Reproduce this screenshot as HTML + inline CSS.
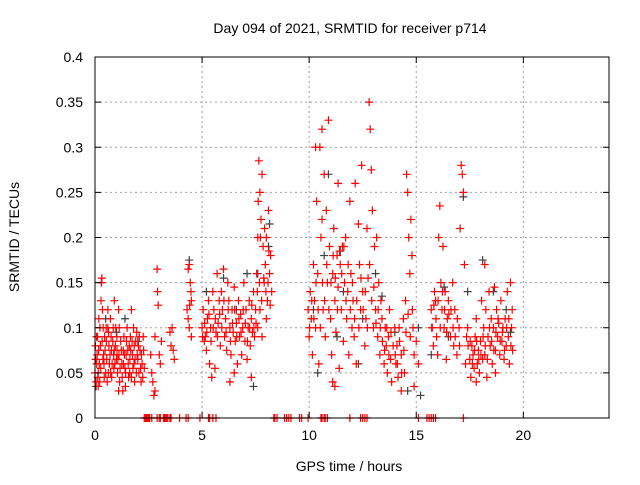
<!DOCTYPE html>
<html><head><meta charset="utf-8"><style>
body{margin:0;background:#fff}
svg text{font-family:"Liberation Sans",sans-serif;font-size:14px;fill:#000}
</style></head><body>
<svg id="chart" width="640" height="480" xmlns="http://www.w3.org/2000/svg">
<rect width="640" height="480" fill="#fff"/>
<g id="grid"></g>
<g id="gray"></g>
<g id="red"></g>
<g id="axes"></g>
<text x="350" y="33" text-anchor="middle">Day 094 of 2021, SRMTID for receiver p714</text>
<text x="349" y="471" text-anchor="middle">GPS time / hours</text>
<text x="19" y="237" text-anchor="middle" transform="rotate(-90 19 237)">SRMTID / TECUs</text>
</svg>
<script>
const xTicks=[0,5,10,15,20];
const yTicks=[0,0.05,0.1,0.15,0.2,0.25,0.3,0.35,0.4];
const yTickLabels=["0","0.05","0.1","0.15","0.2","0.25","0.3","0.35","0.4"];
const redPts=[[0,0.05],[0.02,0.08],[0.05,0.04],[0.08,0.06],[0.1,0.07],[0.12,0.09],[0.15,0.05],[0.18,0.11],[0.2,0.06],[0.22,0.04],[0.25,0.08],[0.28,0.13],[0.3,0.15],[0.32,0.155],[0.35,0.12],[0.38,0.1],[0.4,0.07],[0.42,0.06],[0.45,0.09],[0.5,0.05],[0.52,0.1],[0.55,0.065],[0.6,0.12],[0.62,0.05],[0.65,0.08],[0.7,0.07],[0.72,0.11],[0.75,0.09],[0.78,0.045],[0.8,0.06],[0.85,0.1],[0.88,0.055],[0.9,0.075],[0.95,0.08],[1,0.065],[1.02,0.09],[1.05,0.05],[1.1,0.12],[1.12,0.07],[1.15,0.04],[1.2,0.085],[1.25,0.06],[1.3,0.03],[1.32,0.075],[1.35,0.09],[1.4,0.055],[1.42,0.035],[1.45,0.07],[1.5,0.1],[1.55,0.06],[1.6,0.08],[1.62,0.05],[1.65,0.09],[1.7,0.045],[1.75,0.07],[1.8,0.1],[1.82,0.06],[1.85,0.04],[1.9,0.085],[1.95,0.095],[2,0.065],[2.05,0.05],[2.1,0.075],[2.15,0.04],[2.2,0.06],[2.25,0.09],[2.3,0.055],[0.15,0.035],[0.6,0.1],[1.1,0.03],[1.7,0.12],[0.9,0.13],
[2.6,0.07],[2.65,0.05],[2.7,0.04],[2.8,0.09],[2.9,0.165],[2.92,0.14],[2.95,0.125],[3,0.07],[3.05,0.06],[3.1,0.085],[3.5,0.095],[3.55,0.08],[3.6,0.1],[3.65,0.075],[3.7,0.065],[2.75,0.025],[2.8,0.03],
[4.3,0.12],[4.35,0.11],[4.4,0.17],[4.45,0.15],[4.5,0.13],[4.4,0.1],[4.5,0.09],[4.35,0.165],[5,0.1],[5.05,0.12],[5.1,0.085],[5.15,0.09],[5.2,0.075],[5.25,0.11],[5.3,0.13],[5.35,0.06],[5.4,0.1],[5.5,0.14],[5.55,0.12],[5.6,0.055],[5.65,0.095],[5.7,0.16],[5.75,0.105],[5.8,0.13],[5.85,0.08],[5.9,0.14],[5.95,0.12],[6,0.165],[6.05,0.09],[6.1,0.11],[6.15,0.075],[6.2,0.15],[6.25,0.13],[6.3,0.1],[6.35,0.07],[6.4,0.12],[6.45,0.095],[6.5,0.145],[6.55,0.085],[6.6,0.105],[6.65,0.06],[6.7,0.13],[6.75,0.09],[6.8,0.115],[6.85,0.07],[6.9,0.1],[6.95,0.15],[7,0.085],[7.05,0.12],[7.1,0.065],[7.15,0.1],[7.2,0.13],[7.25,0.08],[7.3,0.11],[7.35,0.095],[7.4,0.14],[7.45,0.09],[7.5,0.12],[7.55,0.16],[7.6,0.2],[7.62,0.24],[7.65,0.285],[7.7,0.25],[7.75,0.22],[7.8,0.27],[7.85,0.19],[7.9,0.15],[7.95,0.17],[8,0.2],[8.05,0.13],[8.1,0.23],[8.15,0.16],[8.2,0.18],[8.25,0.14],[7.6,0.1],[7.7,0.12],[7.8,0.09],[8,0.11],[5.45,0.045],[6.3,0.04],[7.3,0.045],[6.5,0.05],
[9.95,0.12],[10,0.09],[10.05,0.14],[10.1,0.11],[10.15,0.07],[10.2,0.17],[10.25,0.13],[10.3,0.1],[10.35,0.24],[10.4,0.16],[10.45,0.06],[10.5,0.3],[10.55,0.2],[10.6,0.32],[10.65,0.12],[10.7,0.27],[10.75,0.09],[10.8,0.23],[10.85,0.15],[10.9,0.33],[10.95,0.19],[11,0.11],[11.05,0.07],[11.1,0.16],[11.15,0.21],[11.2,0.13],[11.25,0.095],[11.3,0.18],[11.35,0.145],[11.4,0.055],[11.45,0.17],[11.5,0.12],[11.55,0.19],[11.6,0.085],[11.65,0.15],[11.7,0.2],[11.75,0.11],[11.8,0.14],[11.85,0.07],[11.9,0.24],[11.95,0.16],[12,0.1],[12.05,0.13],[12.1,0.09],[12.15,0.26],[12.2,0.06],[12.3,0.215],[12.35,0.17],[12.4,0.12],[12.45,0.28],[12.5,0.14],[12.6,0.08],[12.65,0.11],[12.7,0.21],[12.75,0.155],[12.8,0.35],[12.85,0.32],[12.9,0.275],[12.95,0.23],[13,0.1],[13.05,0.19],[13.1,0.12],[13.15,0.2],[13.2,0.09],[13.25,0.15],[13.3,0.07],[13.35,0.13],[13.4,0.11],[13.5,0.06],[13.55,0.1],[13.6,0.08],[13.65,0.05],[13.7,0.09],[13.75,0.12],[13.8,0.065],[13.85,0.04],[11.1,0.04],[11.2,0.035],[10.3,0.3],[10.6,0.22],[11.35,0.26],
[14,0.1],[14.05,0.06],[14.1,0.08],[14.15,0.045],[14.2,0.1],[14.3,0.07],[14.4,0.11],[14.45,0.05],[14.5,0.13],[14.55,0.27],[14.6,0.25],[14.65,0.2],[14.7,0.16],[14.75,0.22],[14.8,0.18],[14.85,0.1],[14.9,0.07],[15,0.085],[15.1,0.06],[14.3,0.03],[14.9,0.035],
[15.7,0.12],[15.75,0.1],[15.8,0.08],[15.85,0.14],[15.9,0.13],[15.95,0.09],[16,0.07],[16.05,0.2],[16.1,0.235],[16.15,0.15],[16.2,0.12],[16.25,0.19],[16.3,0.1],[16.35,0.14],[16.4,0.065],[16.45,0.11],[16.5,0.13],[16.6,0.09],[16.7,0.15],[16.75,0.08],[16.8,0.12],[16.9,0.07],[17,0.1],[17.05,0.21],[17.1,0.28],[17.15,0.27],[17.2,0.25],[17.25,0.17],[17.3,0.06],[17.35,0.09],[17.4,0.1],[17.5,0.065],[17.55,0.045],[17.6,0.08],[17.65,0.07],[17.7,0.055],[17.75,0.09],[17.8,0.11],[17.85,0.06],[17.9,0.075],[17.95,0.05],[18,0.085],[18.05,0.13],[18.1,0.065],[18.15,0.1],[18.2,0.07],[18.25,0.12],[18.3,0.045],[18.35,0.09],[18.4,0.14],[18.45,0.08],[18.5,0.11],[18.55,0.06],[18.6,0.1],[18.65,0.145],[18.7,0.075],[18.75,0.12],[18.8,0.09],[18.85,0.105],[18.9,0.07],[18.95,0.13],[19,0.085],[19.05,0.1],[19.1,0.065],[19.15,0.11],[19.2,0.08],[19.25,0.14],[19.3,0.09],[19.35,0.06],[19.4,0.15],[19.45,0.1],[19.5,0.075],[18.2,0.17],[17.8,0.04],[18.7,0.05]];
const redPts2=[[0.03,0.065],[0.07,0.09],[0.13,0.045],[0.17,0.075],[0.23,0.1],[0.27,0.055],[0.33,0.085],[0.37,0.065],[0.43,0.045],[0.47,0.075],[0.53,0.085],[0.57,0.04],[0.63,0.095],[0.67,0.06],[0.73,0.05],[0.77,0.075],[0.83,0.085],[0.87,0.07],[0.93,0.06],[0.97,0.1],[1.03,0.075],[1.07,0.065],[1.13,0.1],[1.17,0.055],[1.23,0.075],[1.27,0.045],[1.33,0.06],[1.37,0.07],[1.43,0.05],[1.47,0.085],[1.53,0.075],[1.57,0.045],[1.63,0.065],[1.67,0.075],[1.73,0.085],[1.77,0.055],[1.83,0.08],[1.87,0.065],[1.93,0.05],[1.97,0.07],[2.03,0.08],[2.07,0.09],[2.13,0.055],[2.17,0.07],[2.23,0.045],[2.27,0.075],
[4.42,0.125],[4.48,0.14],[5.02,0.09],[5.12,0.105],[5.22,0.095],[5.32,0.115],[5.42,0.085],[5.52,0.1],[5.62,0.11],[5.72,0.09],[5.82,0.115],[5.92,0.1],[6.02,0.13],[6.12,0.095],[6.22,0.12],[6.32,0.085],[6.42,0.105],[6.52,0.12],[6.62,0.09],[6.72,0.11],[6.82,0.095],[6.92,0.12],[7.02,0.105],[7.12,0.085],[7.22,0.1],[7.32,0.125],[7.42,0.1],[7.52,0.105],[7.58,0.14],[7.68,0.15],[7.78,0.13],[7.88,0.155],[7.98,0.14],[8.08,0.15],[8.18,0.125],[7.72,0.2],[7.92,0.21],[8.12,0.185],
[10.02,0.1],[10.12,0.13],[10.22,0.11],[10.32,0.15],[10.42,0.12],[10.52,0.1],[10.62,0.15],[10.72,0.13],[10.82,0.17],[10.92,0.12],[11.02,0.15],[11.12,0.18],[11.22,0.155],[11.32,0.12],[11.42,0.185],[11.52,0.16],[11.62,0.19],[11.72,0.13],[11.82,0.17],[11.92,0.12],[12.02,0.15],[12.12,0.11],[12.22,0.13],[12.32,0.1],[12.42,0.155],[12.52,0.12],[12.62,0.14],[12.72,0.1],[12.82,0.17],[12.92,0.13],[13.02,0.145],[13.12,0.105],[13.22,0.12],[13.32,0.1],[13.42,0.085],[13.52,0.075],[13.62,0.1],[13.72,0.07],[13.82,0.095],[13.92,0.08],[14.02,0.07],[14.12,0.06],[14.22,0.085],[14.32,0.05],[14.42,0.075],[14.52,0.095],[14.62,0.115],[14.72,0.09],[14.82,0.12],
[15.72,0.1],[15.82,0.125],[15.92,0.11],[16.02,0.13],[16.12,0.1],[16.22,0.14],[16.32,0.12],[16.42,0.095],[16.52,0.115],[16.62,0.12],[16.72,0.1],[16.82,0.09],[16.92,0.11],[17.02,0.08],[17.42,0.08],[17.52,0.085],[17.62,0.06],[17.72,0.075],[17.82,0.085],[17.92,0.065],[18.02,0.07],[18.12,0.09],[18.22,0.08],[18.32,0.065],[18.42,0.1],[18.52,0.085],[18.62,0.075],[18.72,0.095],[18.82,0.11],[18.92,0.085],[19.02,0.095],[19.12,0.075],[19.22,0.1],[19.32,0.11],[19.42,0.08],[19.48,0.12]];
const grayPts=[[0.05,0.035],[0.3,0.15],[0.5,0.11],[1,0.095],[1.4,0.11],[2,0.085],[4.4,0.175],[5.2,0.14],[6,0.155],[6.6,0.12],[7.1,0.16],[7.4,0.035],[7.6,0.16],[8.1,0.19],[8.15,0.215],[10.2,0.12],[10.4,0.05],[10.7,0.18],[10.9,0.27],[11.3,0.09],[11.45,0.185],[11.6,0.14],[12.3,0.06],[12.5,0.11],[13.1,0.16],[13.4,0.135],[14,0.095],[14.6,0.03],[15.1,0.1],[15.2,0.025],[15.7,0.07],[16.3,0.145],[16.5,0.09],[17.2,0.245],[17.4,0.14],[18.1,0.175],[18.6,0.14],[19.2,0.12],[19.4,0.095]];
const zeroHours=[2.3,2.35,2.4,2.45,2.5,2.55,2.65,2.9,3.0,3.05,3.2,3.25,3.3,3.35,3.4,3.5,3.55,3.95,4.25,4.35,4.9,5.3,5.35,5.5,5.65,8.35,8.4,8.5,8.85,8.95,9.05,9.15,9.55,9.65,9.95,10.55,10.6,10.7,10.75,10.85,11.9,12.4,12.5,12.6,12.7,15.1,15.5,15.6,15.7,15.8,15.9,17.2];
const X0=95,X1=609,Y0=418,Y1=57,XMAX=24,YMAX=0.4;
const xs=h=>X0+(X1-X0)*h/XMAX, ys=v=>Y0-(Y0-Y1)*v/YMAX;
const NS="http://www.w3.org/2000/svg";
function mk(tag,parent,attrs){const e=document.createElementNS(NS,tag);for(const k in attrs)e.setAttribute(k,attrs[k]);parent.appendChild(e);return e;}
const grid=document.getElementById('grid'),axes=document.getElementById('axes');
xTicks.forEach(t=>{const x=xs(t);
 if(t>0){const g=mk('line',grid,{x1:x,x2:x,y1:Y0,y2:Y1,stroke:'#a0a0a0','stroke-dasharray':'2,3'});
 
 }
 mk('line',axes,{x1:x,x2:x,y1:Y0,y2:Y0-6,stroke:'#000'});mk('line',axes,{x1:x,x2:x,y1:Y1,y2:Y1+6,stroke:'#000'});
 const tx=mk('text',axes,{x:x,y:Y0+22,'text-anchor':'middle'});tx.textContent=t;
 
 });
yTicks.forEach((t,i)=>{const y=ys(t);
 if(t>0&&t<YMAX){const g=mk('line',grid,{x1:X0,x2:X1,y1:y,y2:y,stroke:'#a0a0a0','stroke-dasharray':'2,3'});
 
 }
 mk('line',axes,{x1:X0,x2:X0+6,y1:y,y2:y,stroke:'#000'});mk('line',axes,{x1:X1,x2:X1-6,y1:y,y2:y,stroke:'#000'});
 const tx=mk('text',axes,{x:X0-12,y:y+5,'text-anchor':'end'});tx.textContent=yTickLabels[i];
 
 });
mk('rect',axes,{x:X0,y:Y1,width:X1-X0,height:Y0-Y1,fill:'none',stroke:'#000'});
function cross(g,h,v,col,name){const x=xs(h),y=ys(v);
 const p=mk('path',g,{d:`M${x-4},${y}h8M${x},${y-4}v8`,stroke:col,'stroke-width':1.2,fill:'none'});
 
 }
const gg=document.getElementById('gray'),rg=document.getElementById('red');
grayPts.forEach(p=>cross(gg,p[0],p[1],'#404040','gray-point'));
redPts.forEach(p=>cross(rg,p[0],p[1],'#ff0000','red-point'));
redPts2.forEach(p=>cross(rg,p[0],p[1],'#ff0000','red-point'));
zeroHours.forEach(h=>cross(rg,h,0,'#ff0000','zero-point'));
</script>
</body></html>
